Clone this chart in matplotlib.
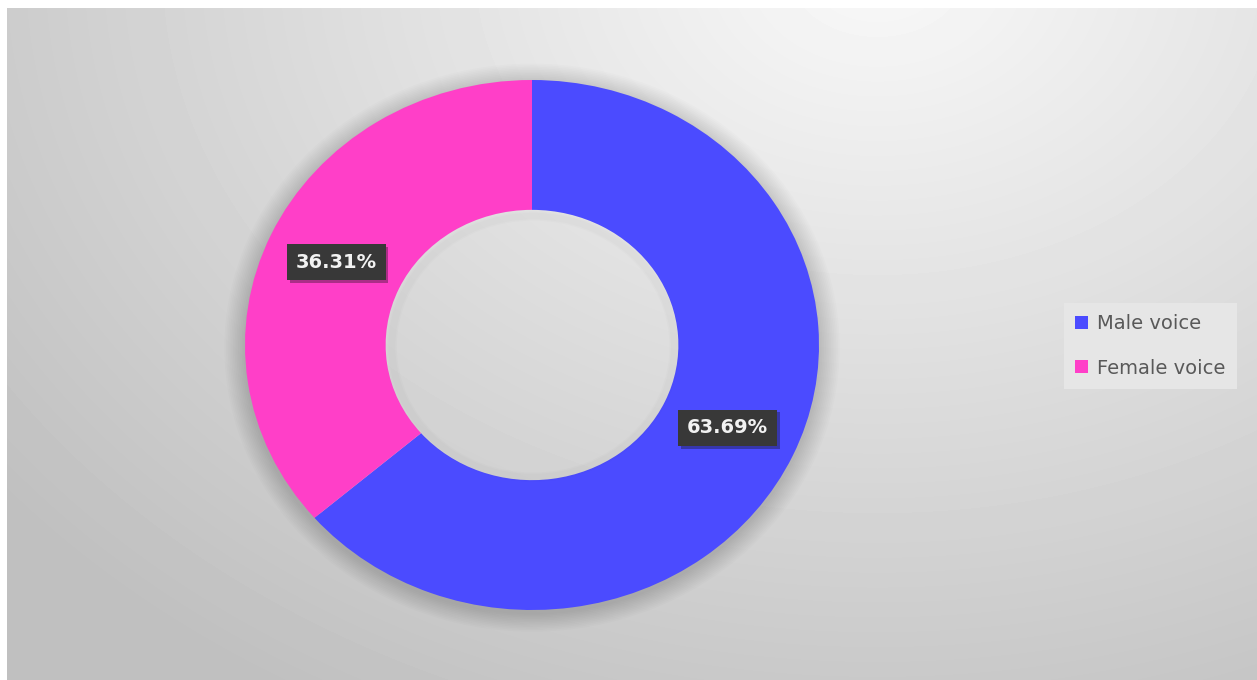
import numpy as np
import matplotlib
matplotlib.use("Agg")
import matplotlib.pyplot as plt
import matplotlib.patheffects as pe
from matplotlib.patches import Annulus

labels = ["Male voice", "Female voice"]
shares = [63.69, 36.31]
colors = ["#4B4BFF", "#FF3FC8"]

W, H = 1257, 680
fig = plt.figure(figsize=(W / 100, H / 100), dpi=100)
fig.patch.set_facecolor("white")

# background: soft radial gradient, white strip on top and left
bg = fig.add_axes([7 / W, 0, 1 - 7 / W, (H - 8) / H])
yy, xx = np.mgrid[0:H - 8, 0:W - 7]
d = np.sqrt(((xx - 870) / 1050.0) ** 2 + ((yy + 40) / 800.0) ** 2)
v = np.clip(0.975 - 0.21 * d, 0.75, 1.0)
bg.imshow(v, cmap="gray", vmin=0, vmax=1, aspect="auto", interpolation="bilinear")
bg.axis("off")

# donut axes, centre (532, 345) px, radius 287 px across, 265 px down
cx, cy, rx, ry = 532, 345, 287, 265
pad = 30
ax = fig.add_axes([(cx - rx - pad) / W, (H - cy - ry - pad) / H,
                   2 * (rx + pad) / W, 2 * (ry + pad) / H])
ax.patch.set_alpha(0)

# soft shadow around the outside of the ring
for k in range(12):
    g = 1.0 + 0.006 * (k + 1)
    ax.add_patch(Annulus((0, -0.01), g, g - 0.97, color="black", alpha=0.013, lw=0, zorder=0))

wedges, texts, autotexts = ax.pie(
    shares, colors=colors, startangle=90, counterclock=False,
    wedgeprops=dict(width=0.49, linewidth=0), autopct="%.2f%%", pctdistance=0.75,
    textprops=dict(color="#F2F2F2", fontsize=14, fontweight="bold"))
for w in wedges:
    w.set_zorder(2)

# faint inner shadow inside the hole
for k in range(6):
    r = 0.51 - 0.005 * k
    ax.add_patch(Annulus((0.004, -0.006), r, 0.01, color="black", alpha=0.01, lw=0, zorder=3))

for t in autotexts:
    t.set_bbox(dict(boxstyle="square,pad=0.45", facecolor="#383838", edgecolor="none"))
    t.get_bbox_patch().set_path_effects([pe.withSimplePatchShadow(offset=(2, -2), alpha=0.35)])
    t.set_zorder(5)

ax.set_aspect("auto")
ax.set_xlim(-(rx + pad) / rx, (rx + pad) / rx)
ax.set_ylim(-(ry + pad) / ry, (ry + pad) / ry)
ax.axis("off")

leg = fig.legend(wedges, labels, loc="center left", bbox_to_anchor=(1054 / W, 1 - 346 / H),
                 frameon=True, fancybox=False, framealpha=1, facecolor="#E6E6E6", edgecolor="none",
                 fontsize=14, handlelength=0.65, handleheight=0.65, handletextpad=0.45,
                 labelspacing=1.3, borderpad=0.6, labelcolor="#595959")

fig.savefig("out.png", dpi=100)
